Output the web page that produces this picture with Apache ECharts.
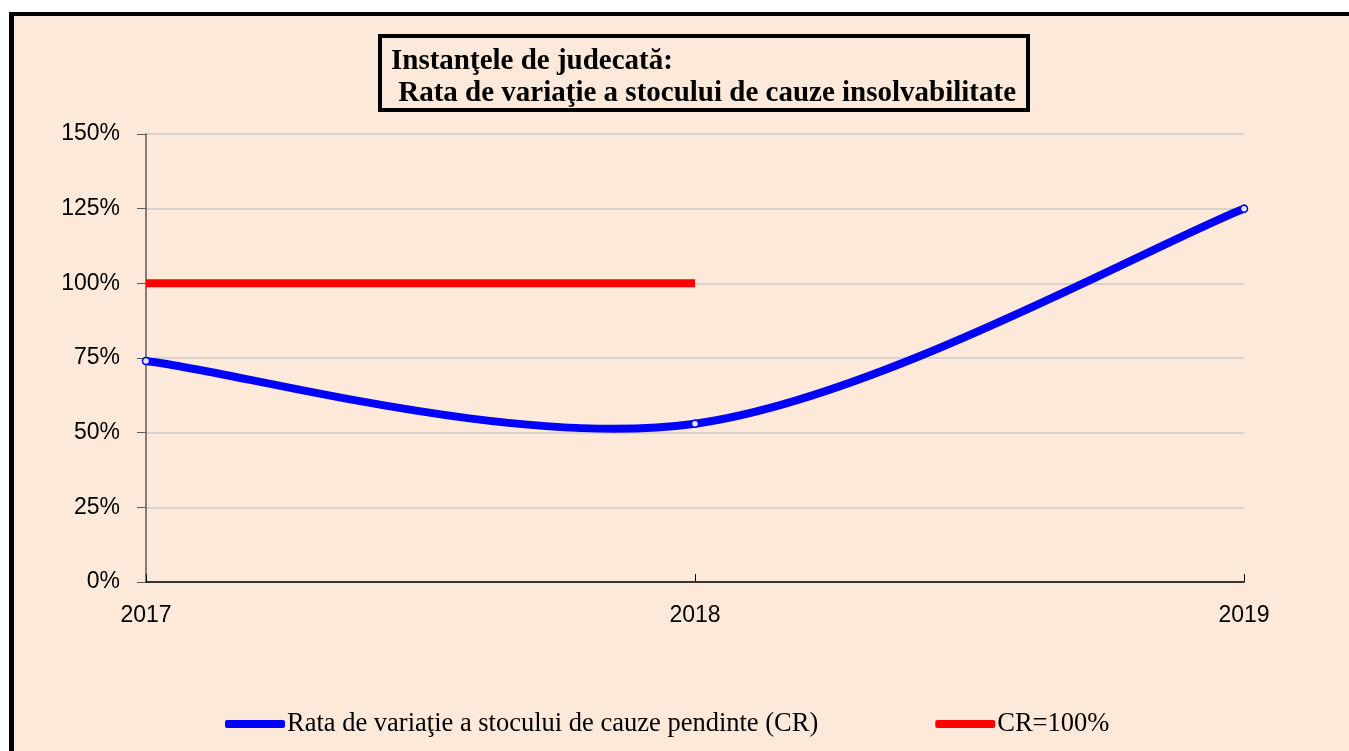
<!DOCTYPE html>
<html>
<head>
<meta charset="utf-8">
<script src="https://cdn.jsdelivr.net/npm/echarts@6/dist/echarts.min.js"></script>
<style>
  html, body { margin: 0; padding: 0; background: #fff; }
  #frame {
    position: absolute; left: 9px; top: 12px;
    width: 1400px; height: 800px;
    border-left: 5px solid #000; border-top: 4px solid #000;
    background: #fde9d9;
  }
  #chart { position: absolute; left: 0; top: 0; width: 1349px; height: 751px; }
</style>
</head>
<body>
<div id="frame"></div>
<div id="chart"></div>
<script>
	var years = ['2017', '2018', '2019'];
	var rataCR = [74, 53, 125];
	var cr100 = [100, 100, null];
	var yTicks = [0, 25, 50, 75, 100, 125, 150];

	var blueName = 'Rata de variaţie a stocului de cauze pendinte (CR)';
	var redName = 'CR=100%';

	// curba netezita in stil Excel (tangenta = (urmator - anterior) / 6)
	function renderSmooth(params, api) {
	    var i = params.dataIndex;
	    var pts = rataCR.map(function (v, k) { return api.coord([k, v]); });
	    var children = [];
	    if (i < pts.length - 1) {
	        var p0 = pts[i], p1 = pts[i + 1];
	        var prev = pts[i - 1] || p0;
	        var next = pts[i + 2] || p1;
	        var t0 = i > 0 ? [(p1[0] - prev[0]) / 6, (p1[1] - prev[1]) / 6] : [(p1[0] - p0[0]) / 6, (p1[1] - p0[1]) / 6];
	        var t1 = i + 2 < pts.length ? [(next[0] - p0[0]) / 6, (next[1] - p0[1]) / 6] : [(p1[0] - p0[0]) / 6, (p1[1] - p0[1]) / 6];
	        children.push({
	            type: 'bezierCurve',
	            shape: {
	                x1: p0[0], y1: p0[1],
	                cpx1: p0[0] + t0[0], cpy1: p0[1] + t0[1],
	                cpx2: p1[0] - t1[0], cpy2: p1[1] - t1[1],
	                x2: p1[0], y2: p1[1]
	            },
	            style: { stroke: '#0000ff', lineWidth: 8, fill: null, lineCap: 'round' }
	        });
	    }
	    children.push({
	        type: 'circle',
	        z2: 10,
	        shape: { cx: pts[i][0], cy: pts[i][1], r: 3.5 },
	        style: { stroke: '#0000ff', lineWidth: 1.5, fill: '#e6e6ff' }
	    });
	    return { type: 'group', children: children };
	}

	var myChart = echarts.init(document.getElementById('chart'));
	var option = {
	    backgroundColor: 'transparent',
	    animation: false,
	    title: {
	        text: 'Instanţele de judecată:\n Rata de variaţie a stocului de cauze insolvabilitate',
	        left: 380,
	        top: 36,
	        borderColor: '#000',
	        borderWidth: 4,
	        padding: [10, 12, 0, 11],
	        textStyle: {
	            fontFamily: 'Liberation Serif',
	            fontWeight: 'bold',
	            fontSize: 29,
	            lineHeight: 32,
	            color: '#000'
	        }
	    },
	    legend: {
	        left: 225,
	        top: 709,
	        padding: 0,
	        icon: 'roundRect',
	        itemWidth: 60,
	        itemHeight: 8,
	        itemGap: 117,
	        textStyle: {
	            fontFamily: 'Liberation Serif',
	            fontSize: 26.5,
	            lineHeight: 30,
	            color: '#000',
	            padding: [0, 0, 0, -3]
	        },
	        data: [blueName, redName]
	    },
	    grid: {
	        left: 146,
	        right: 105,
	        top: 134,
	        bottom: 169
	    },
	    xAxis: {
	        type: 'category',
	        boundaryGap: false,
	        data: years,
	        axisLine: { lineStyle: { color: '#000', width: 1.5 } },
	        axisTick: { inside: true, length: 8, lineStyle: { color: '#000' } },
	        axisLabel: {
	            margin: 22,
	            fontFamily: 'Liberation Sans',
	            fontSize: 23,
	            color: '#000'
	        }
	    },
	    yAxis: {
	        type: 'value',
	        min: yTicks[0],
	        max: yTicks[yTicks.length - 1],
	        interval: 25,
	        axisLine: { show: true, lineStyle: { color: '#5a5a5a', width: 1.5 } },
	        axisTick: { show: true, length: 9, lineStyle: { color: '#5a5a5a' } },
	        splitLine: { lineStyle: { color: '#d9d2cc', width: 2 } },
	        axisLabel: {
	            formatter: '{value}%',
	            margin: 26,
	            fontFamily: 'Liberation Sans',
	            fontSize: 23,
	            color: '#000'
	        }
	    },
	    series: [
	        {
	            name: blueName,
	            type: 'custom',
	            renderItem: renderSmooth,
	            data: rataCR.map(function (v, k) { return [k, v]; }),
	            encode: { x: 0, y: 1 },
	            itemStyle: { color: '#0000ff' },
	            z: 3
	        },
	        {
	            name: redName,
	            type: 'line',
	            data: cr100,
	            symbol: 'none',
	            lineStyle: { color: '#ff0000', width: 8, cap: 'butt' },
	            itemStyle: { color: '#ff0000' },
	            z: 2
	        }
	    ]
	};
	myChart.setOption(option);
</script>
</body>
</html>
